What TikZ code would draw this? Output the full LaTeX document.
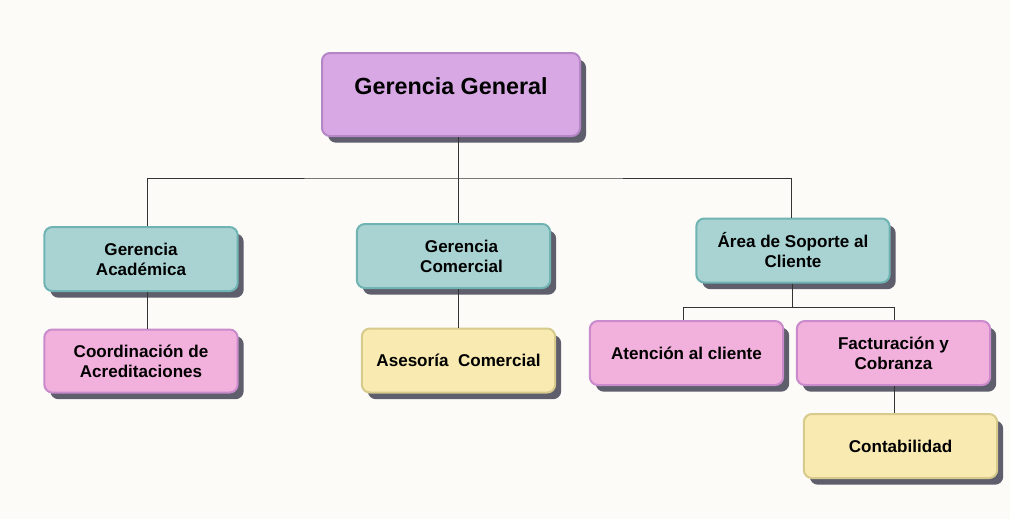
\documentclass[tikz,border=0pt]{standalone}
\usepackage{fontspec}
\setmainfont{Liberation Sans}
\usetikzlibrary{shadows}
\definecolor{bgcol}{HTML}{FCFBF7}
\definecolor{lila}{HTML}{D8A8E4}
\definecolor{lilaline}{HTML}{B586C6}
\definecolor{teal}{HTML}{A9D3D3}
\definecolor{tealline}{HTML}{6FB3B3}
\definecolor{rosa}{HTML}{F2B0DC}
\definecolor{rosaline}{HTML}{C98BCB}
\definecolor{crema}{HTML}{F8EAB0}
\definecolor{cremaline}{HTML}{D6CA8C}
\definecolor{sombra}{HTML}{5E5E6C}

\begin{document}
\begin{tikzpicture}[x=0.75pt, y=-0.75pt, box/.style={draw, rectangle, rounded corners=6pt, line width=1.5pt, minimum width=145pt, minimum height=48pt, align=center, font=\bfseries\fontsize{12.8}{15}\selectfont, drop shadow={shadow xshift=4.5pt, shadow yshift=-5pt, fill=sombra, opacity=1}}, top/.style={box, fill=lila, draw=lilaline, minimum width=193.5pt, minimum height=62.25pt, text depth=12pt, font=\bfseries\fontsize{17.5}{20}\selectfont}, ger/.style={box, fill=teal, draw=tealline}, sub/.style={box, fill=rosa, draw=rosaline}, hoja/.style={box, fill=crema, draw=cremaline}, e/.style={line width=0.75pt, black!80}]
                \fill[bgcol] (0,0) rectangle (1010,519);
                \useasboundingbox (0,0) rectangle (1010,519);
                % nodes
                \node[top] (gg) at (451,94.5) {Gerencia General};
                \node[ger] (ga) at (141,259) {Gerencia\\Académica};
                \node[ger, text width=130pt] (gc) at (453.5,256) {\hspace*{12pt}Gerencia\\\hspace*{12pt}Comercial};
                \node[ger] (sc) at (793,250.5) {Área de Soporte al\\Cliente};
                \node[sub, minimum height=47.25pt] (ca) at (141,361) {Coordinación de\\Acreditaciones};
                \node[hoja] (as) at (458.5,360.5) {Asesoría\ \ Comercial};
                \node[sub] (at) at (686.5,353) {Atención al cliente};
                \node[sub] (fc) at (893.5,353) {Facturación y\\Cobranza};
                \node[hoja] (co) at (900.5,446) {Contabilidad};
                \coordinate (bus) at (458,178);
                \coordinate (bus2) at (792,307);
                % edges
                \draw [e] ([xshift=5pt]ga.north) |- (bus) -| ([xshift=-1pt]sc.north);
                \draw [e] (bus |- gg.south) -- (bus |- gc.north);
                \draw [e] ([xshift=5pt]ga.south) -- ([xshift=5pt]ca.north);
                \draw [e] (bus |- gc.south) -- (bus |- as.north);
                \draw [e] (bus2 |- sc.south) -- (bus2);
                \draw [e] (bus2) -| ([xshift=-2pt]at.north);
                \draw [e] (bus2) -| ([xshift=0.5pt]fc.north);
                \draw [e] ([xshift=0.5pt]fc.south) -- ([xshift=0.5pt]fc.south |- co.north);
            \end{tikzpicture}
\end{document}
